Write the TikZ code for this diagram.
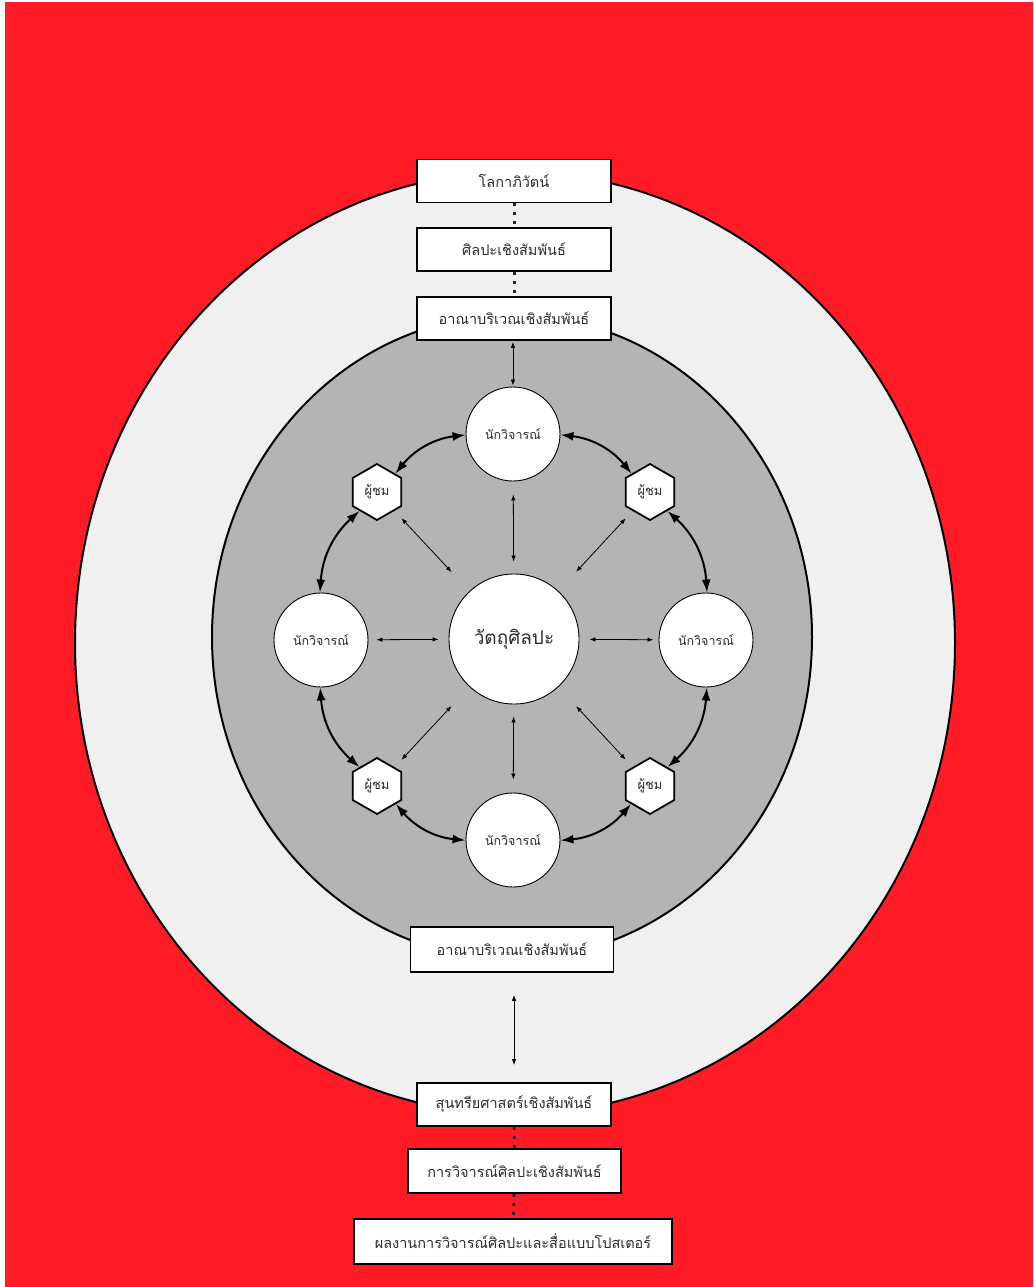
\documentclass[tikz,border=0pt]{standalone}
\usepackage{fontspec}
\newfontfamily\thaifont[Script=Thai]{Loma}
\usetikzlibrary{shapes.geometric,arrows.meta}
\definecolor{bgred}{RGB}{255,28,38}
\definecolor{ringlight}{RGB}{240,240,240}
\definecolor{ringmid}{RGB}{180,180,180}
\definecolor{txt}{RGB}{45,45,45}
\begin{document}
\begin{tikzpicture}[x=1pt,y=-1pt,
  labelbox/.style={draw=black, line width=1.8pt, fill=white, inner sep=0pt, text=txt,
    minimum height=43pt, font=\thaifont\fontsize{14.5}{16}\selectfont},
  critic/.style={circle, draw=black, line width=0.9pt, fill=white, minimum size=94pt,
    inner sep=0pt, text=txt, font=\thaifont\fontsize{12.5}{14}\selectfont},
  artobj/.style={circle, draw=black, line width=0.9pt, fill=white, minimum size=130pt,
    inner sep=0pt, text=txt, font=\thaifont\fontsize{19}{21}\selectfont},
  viewer/.style={regular polygon, regular polygon sides=6, shape border rotate=30,
    draw=black, line width=1.8pt, fill=white, minimum size=56pt, inner sep=0pt,
    text=txt, font=\thaifont\fontsize{13}{14}\selectfont},
  ringarrow/.style={line width=2pt, {Latex[length=13pt,width=9pt]}-{Latex[length=13pt,width=9pt]}},
  thinarrow/.style={line width=0.8pt, {Latex[length=6pt,width=4.5pt]}-{Latex[length=6pt,width=4.5pt]}},
  dotlink/.style={line width=3pt, dash pattern=on 3pt off 6pt, draw=black!85}
]
\useasboundingbox (0,0) rectangle (1033,1287);
\fill[white] (0,0) rectangle (1033,1287);
\fill[bgred] (5,2) rectangle (1033,1287);
\draw[line width=2pt, fill=ringlight] (515,643) ellipse [x radius=440pt, y radius=471pt];
\draw[line width=2pt, fill=ringmid] (512,637) ellipse [x radius=300pt, y radius=322pt];

% boxes
\node[labelbox, minimum width=194pt] (b1) at (514,181) {โลกาภิวัตน์};
\node[labelbox, minimum width=194pt] (b2) at (514,249.5) {ศิลปะเชิงสัมพันธ์};
\node[labelbox, minimum width=194pt] (b3) at (514,318.5) {อาณาบริเวณเชิงสัมพันธ์};
\node[labelbox, minimum width=203pt, minimum height=45pt] (b4) at (512,949.5) {อาณาบริเวณเชิงสัมพันธ์};
\node[labelbox, minimum width=194pt] (b5) at (514,1104.5) {สุนทรียศาสตร์เชิงสัมพันธ์};
\node[labelbox, minimum width=213pt, minimum height=44pt] (b6) at (514.5,1171) {การวิจารณ์ศิลปะเชิงสัมพันธ์};
\node[labelbox, minimum width=318pt, minimum height=45pt] (b7) at (513,1241.5) {ผลงานการวิจารณ์ศิลปะและสื่อแบบโปสเตอร์};

% inner nodes
\node[artobj] (obj) at (514,639) {วัตถุศิลปะ};
\node[critic] (ct) at (513,434) {นักวิจารณ์};
\node[critic] (cl) at (321,640) {นักวิจารณ์};
\node[critic] (cr) at (706,640) {นักวิจารณ์};
\node[critic] (cb) at (513,840) {นักวิจารณ์};
\node[viewer] (vtl) at (377,492) {ผู้ชม};
\node[viewer] (vtr) at (650,492) {ผู้ชม};
\node[viewer] (vbl) at (377,786) {ผู้ชม};
\node[viewer] (vbr) at (650,786) {ผู้ชม};

% dotted links
\draw[dotlink] (b1) -- (b2);
\draw[dotlink] (b2) -- (b3);
\draw[dotlink] (b5) -- (b6);
\draw[dotlink] (b6) -- (b7);

% vertical arrows to boxes
\draw[thinarrow, shorten <=1pt, shorten >=1pt] (b3.south -| ct) -- (ct);
\draw[thinarrow, shorten <=22pt, shorten >=17pt] (b4.south -| b5) -- (b5.north);

% ring arrows
\draw[ringarrow] (ct) to[bend right=22] (vtl);
\draw[ringarrow] (vtl) to[bend right=22] (cl);
\draw[ringarrow] (cl) to[bend right=22] (vbl);
\draw[ringarrow] (vbl) to[bend right=22] (cb);
\draw[ringarrow] (cb) to[bend right=22] (vbr);
\draw[ringarrow] (vbr) to[bend right=22] (cr);
\draw[ringarrow] (cr) to[bend right=22] (vtr);
\draw[ringarrow] (vtr) to[bend right=22] (ct);

% radial thin arrows
\draw[thinarrow, shorten <=12pt, shorten >=13pt] (obj) -- (ct);
\draw[thinarrow, shorten <=12pt, shorten >=13pt] (obj) -- (cb);
\draw[thinarrow, shorten <=10pt, shorten >=8pt] (obj) -- (cl);
\draw[thinarrow, shorten <=10pt, shorten >=5pt] (obj) -- (cr);
\draw[thinarrow, shorten <=26pt, shorten >=10pt] (obj) -- (vtl);
\draw[thinarrow, shorten <=26pt, shorten >=10pt] (obj) -- (vtr);
\draw[thinarrow, shorten <=26pt, shorten >=10pt] (obj) -- (vbl);
\draw[thinarrow, shorten <=26pt, shorten >=10pt] (obj) -- (vbr);
\end{tikzpicture}
\end{document}
